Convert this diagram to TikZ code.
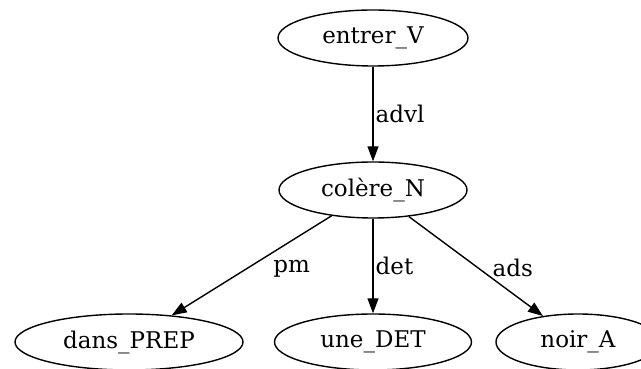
\documentclass[tikz,border=0pt]{standalone}
\usepackage{fontspec}
\setmainfont{DejaVu Serif}
\usepackage{tikz}
\usetikzlibrary{shapes,shapes.geometric,arrows.meta,positioning}
\tikzstyle{every node}=[font=\fontsize{23}{26}\selectfont]
\tikzstyle{word}=[ellipse,draw,line width=1.4pt,minimum height=56pt,inner sep=2pt]
\tikzstyle{dep}=[line width=1.4pt,-{Triangle[length=15pt,width=11pt]}]
\tikzstyle{rel}=[anchor=west,inner sep=2pt]

\begin{document}
\begin{tikzpicture}[x=1pt,y=1pt]
  \useasboundingbox (0,0) rectangle (641,369);
  \node [word,minimum width=190pt] (entrer) at (373,331) {entrer\_V};
  \node [word,minimum width=188pt] (colere) at (373,179) {colère\_N};
  \node [word,minimum width=228pt] (dans) at (129,27) {dans\_PREP};
  \node [word,minimum width=197pt] (une) at (373,27) {une\_DET};
  \node [word,minimum width=164pt] (noir) at (578,27) {noir\_A};
  \draw [dep] (entrer) -- node [rel] (advl) {advl} (colere);
  \draw [dep] (colere) -- node [rel,xshift=19pt,yshift=-3pt] (pm) {pm} (dans);
  \draw [dep] (colere) -- node [rel] (det) {det} (une);
  \draw [dep] (colere) -- node [rel,xshift=14pt,yshift=-2pt] (ads) {ads} (noir);
\end{tikzpicture}
\end{document}
